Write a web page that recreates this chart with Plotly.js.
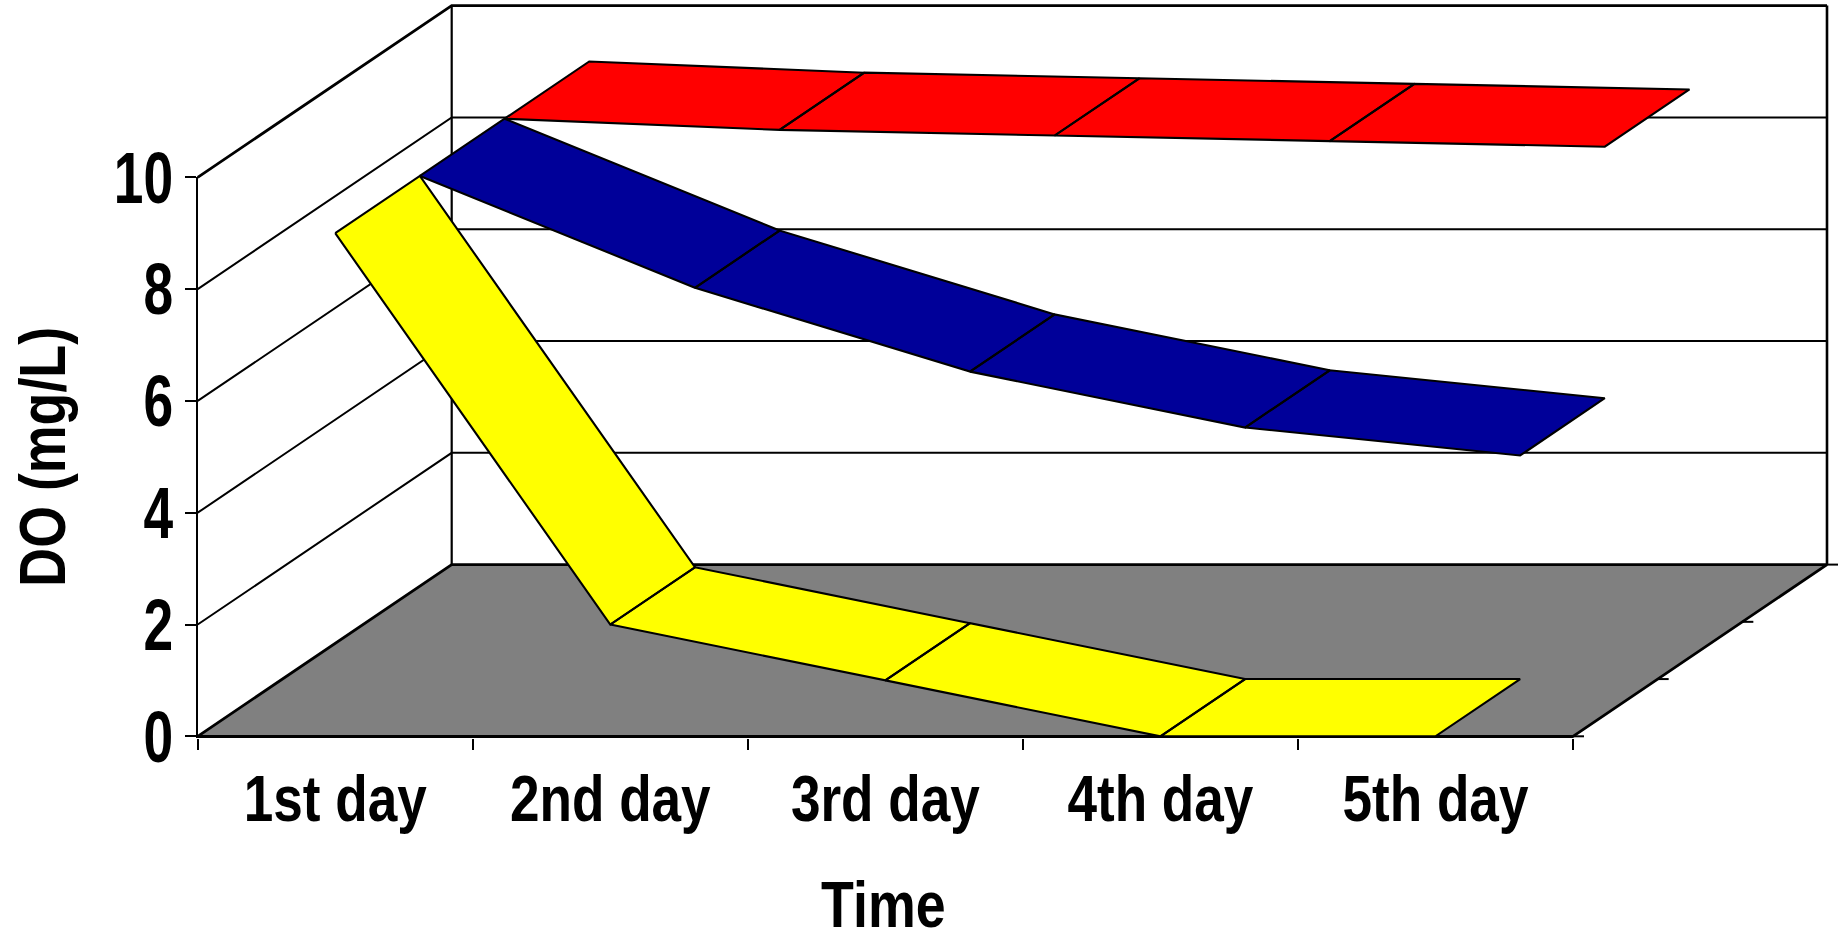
<!DOCTYPE html>
<html>
<head>
<meta charset="utf-8">
<script src="https://cdn.plot.ly/plotly-3.0.1.min.js"></script>
<style>html,body{margin:0;padding:0;background:#fff;overflow:hidden}</style>
</head>
<body>
<div id="chart" style="width:1845px;height:937px"></div>
<script>
const categories = ["1st day", "2nd day", "3rd day", "4th day", "5th day"];
const yTicks = [0, 2, 4, 6, 8, 10];
const yellowValues = [9.0, 2.0, 1.0, 0.0, 0.0];
const blueValues = [9.0, 7.0, 5.5, 4.5, 4.0];
const redValues = [9.0, 8.8, 8.7, 8.6, 8.5];
const yellowColor = "#FFFF00", blueColor = "#000099", redColor = "#FF0000", floorColor = "#808080";

// Page layout of the front plane, in pixels
const W = 1845, H = 937;
const LEFT = 197.7, RIGHT = 1573, TOP = 177.3, BOTTOM = 736.3;
const nCat = categories.length;
const UX = (RIGHT - LEFT) / nCat, UY = (BOTTOM - TOP) / 10;

// Oblique depth projection, expressed in axis units
const DEPTH_X = 254 / UX, DEPTH_Y = 171.7 / UY;
const px = (c, d) => c + d * DEPTH_X;
const py = (v, d) => v + d * DEPTH_Y;

function polyline(points, width, extra) {
  return Object.assign({
    type: "scatter", mode: "lines", xaxis: "x", yaxis: "y", hoverinfo: "skip", showlegend: false,
    x: points.map(p => p === null ? null : px(p[0], p[2])),
    y: points.map(p => p === null ? null : py(p[1], p[2])),
    line: {color: "#000", width: width, simplify: false}
  }, extra || {});
}

function ribbon(name, values, color, d0, d1) {
  const pts = [];
  for (let i = 0; i < values.length - 1; i++) {
    pts.push([i + 0.5, values[i], d0], [i + 1.5, values[i + 1], d0],
             [i + 1.5, values[i + 1], d1], [i + 0.5, values[i], d1],
             [i + 0.5, values[i], d0]);
    if (i < values.length - 2) pts.push(null);
  }
  return polyline(pts, 2.1, {name: name, fill: "toself", fillcolor: color});
}

const traces = [];
// Walls: gridlines running along the side wall and along the back wall
yTicks.slice(1).forEach(v => {
  traces.push(polyline([[0, v, 0], [0, v, 1], [nCat, v, 1]], v === 10 ? 2.8 : 2));
});
traces.push(polyline([[0, 0, 1], [0, 10, 1]], 2.2));
traces.push(polyline([[nCat, 0, 1], [nCat, 10, 1]], 2.6));
// Floor
traces.push(polyline([[0, 0, 0], [nCat, 0, 0], [nCat, 0, 1], [0, 0, 1], [0, 0, 0]], 2.8,
  {fill: "toself", fillcolor: floorColor}));
// Depth ticks
[0, 1 / 3, 2 / 3, 1].forEach(d => {
  traces.push(polyline([[nCat, 0, d], [nCat + 0.04, 0, d]], 2));
});
// Ribbons, back to front
traces.push(ribbon("Red", redValues, redColor, 2 / 3, 1));
traces.push(ribbon("Blue", blueValues, blueColor, 1 / 3, 2 / 3));
traces.push(ribbon("Yellow", yellowValues, yellowColor, 0, 1 / 3));
// Invisible trace that keeps the front-plane axes alive
traces.push({type: "scatter", mode: "lines", xaxis: "x2", yaxis: "y2",
  x: categories.map((_, i) => i + 0.5), y: yellowValues,
  line: {width: 0, color: "rgba(0,0,0,0)"}, hoverinfo: "skip", showlegend: false});

const fontFam = '"Liberation Sans",Arial,sans-serif';
const layout = {
  width: W, height: H,
  paper_bgcolor: "#fff", plot_bgcolor: "rgba(0,0,0,0)",
  margin: {l: 0, r: 0, t: 0, b: 0, pad: 0},
  showlegend: false,
  font: {family: fontFam, color: "#000"},
  xaxis: {
    domain: [0, 1], anchor: "y", visible: false, fixedrange: true,
    range: [-LEFT / UX, (W - LEFT) / UX]
  },
  yaxis: {
    domain: [0, 1], anchor: "x", visible: false, fixedrange: true,
    range: [-(H - BOTTOM) / UY, BOTTOM / UY]
  },
  xaxis2: {
    type: "linear", range: [0, nCat], domain: [LEFT / W, RIGHT / W], anchor: "y2",
    fixedrange: true, automargin: false,
    showgrid: false, zeroline: false, showline: true, linecolor: "#000", linewidth: 2.4,
    tickmode: "array", tickvals: categories.map((_, i) => i + 0.5), ticktext: categories,
    ticks: "", ticklabelstandoff: 6,
    tickfont: {family: fontFam, size: 64, weight: "bold", color: "#000"},
    minor: {tickmode: "array", tickvals: [0, 1, 2, 3, 4, 5], ticks: "outside", ticklen: 11, tickwidth: 2.2, tickcolor: "#000", showgrid: false},
    title: {text: "Time", font: {family: fontFam, size: 64, weight: "bold", color: "#000"}}
  },
  yaxis2: {
    type: "linear", range: [0, 10], domain: [(H - BOTTOM) / H, (H - TOP) / H], anchor: "x2",
    fixedrange: true, automargin: false,
    showgrid: false, zeroline: false, showline: true, linecolor: "#000", linewidth: 2.4,
    tickmode: "array", tickvals: yTicks, ticktext: yTicks.map(String),
    ticks: "outside", ticklen: 11, tickwidth: 2.2, tickcolor: "#000", ticklabelstandoff: -3,
    tickfont: {family: fontFam, size: 72, weight: "bold", color: "#000"},
    title: {text: "DO (mg/L)", font: {family: fontFam, size: 64, weight: "bold", color: "#000"}}
  }
};

// No narrow face is available here, so the installed bold face is condensed in place
function condense(selector, factor) {
  document.querySelectorAll(selector).forEach(t => {
    const len = t.getComputedTextLength();
    t.setAttribute("textLength", (len * factor).toFixed(2));
    t.setAttribute("lengthAdjust", "spacingAndGlyphs");
  });
}
// Fine placement of the axis titles
function nudge(selector, dx, dy) {
  const g = document.querySelector(selector);
  if (g) g.setAttribute("transform", "translate(" + dx + "," + dy + ")");
}
Plotly.newPlot("chart", traces, layout, {displayModeBar: false, responsive: false}).then(() => {
  condense("#chart .x2tick text", 0.83);
  condense("#chart .y2tick text", 0.74);
  condense("#chart .x2title", 0.84);
  condense("#chart .y2title", 0.84);
  nudge("#chart .g-x2title", -2, -13);
  nudge("#chart .g-y2title", 7, 0);
});
</script>
</body>
</html>
